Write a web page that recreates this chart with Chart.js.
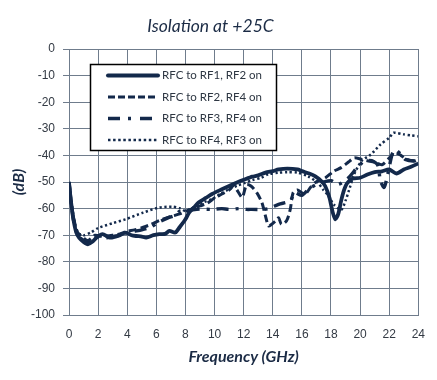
<!DOCTYPE html>
<html>
<head>
<meta charset="utf-8">
<script src="https://cdn.jsdelivr.net/npm/chart.js@4/dist/chart.umd.min.js"></script>
<style>
html,body{margin:0;padding:0;background:#fff;}
canvas{display:block;}
</style>
</head>
<body>
<canvas id="c" width="437" height="380"></canvas>
<script>
// ---- data (frequency in GHz, isolation in dB) ----
const seriesLabels = ['RFC to RF1, RF2 on', 'RFC to RF2, RF4 on', 'RFC to RF3, RF4 on', 'RFC to RF4, RF3 on'];

const freq1 = [0,0.15,0.3,0.5,0.7,1.0,1.3,1.6,1.9,2.3,2.8,3.2,3.5,3.9,4.3,4.6,5.0,5.3,5.8,6.2,6.6,6.9,7.3,7.6,8.0,8.25,8.6,8.9,9.4,9.8,10.4,11.0,11.5,12.1,12.6,13.0,13.5,14.0,14.4,15.0,15.7,16.0,16.5,16.9,17.3,17.6,17.9,18.1,18.3,18.5,18.7,18.9,19.1,19.5,20.0,20.5,21.0,21.5,22.0,22.5,23.0,23.5,24.0];
const rf1rf2 = [-50.3,-58,-64,-69,-71,-72.5,-73.4,-72.5,-70.9,-69.6,-70.9,-70.5,-70,-69,-70,-70.3,-70.5,-70.9,-70,-69.6,-69.5,-68.4,-69,-67,-64,-61.5,-59.5,-57.7,-56,-54.6,-53,-51.5,-50.3,-49,-48,-47.5,-46.5,-45.9,-45.3,-45,-45.3,-45.9,-46.8,-47.8,-49.5,-51.5,-56,-61,-64,-62,-57,-53,-50.5,-48.7,-48.4,-47.2,-46.3,-46,-45.3,-46.8,-45.3,-44.3,-43];

const freq2 = [0,0.3,0.6,1.0,1.3,1.8,2.3,3.0,3.5,4.0,4.5,5.1,5.6,6.2,6.7,7.1,7.6,8.0,8.5,9.0,9.5,10.0,10.5,11.0,11.3,11.6,11.9,12.2,12.5,12.9,13.25,13.5,13.7,13.9,14.2,14.4,14.6,14.95,15.2,15.4,15.7,16.2,16.6,16.9,17.3,17.6,18.2,18.7,19.2,19.6,20.1,20.5,21.0,21.5,22.0,22.4,22.8,23.2,23.7,24.0];
const rf2rf4 = [-50,-63,-69,-71,-72,-70,-70.5,-70,-69.5,-68.5,-68,-67,-66,-64.5,-63.5,-62.8,-62,-61,-60,-59,-58,-56,-54.5,-53,-51.5,-53.5,-55.8,-51,-51.5,-54,-57.7,-62.8,-66.5,-66,-64.6,-63.5,-65.9,-64.6,-60.3,-54,-53,-54.6,-52,-50.3,-49,-48.5,-45.9,-44.6,-42.5,-40.9,-41.5,-42,-42.5,-43.5,-41,-39,-40,-41.5,-42,-41];

const freq3 = [0,0.3,0.6,1.0,1.4,1.9,2.5,3.0,3.5,4.0,4.5,5.0,5.6,6.2,6.8,7.3,7.6,8.0,8.5,9.0,9.8,10.5,11.0,11.7,12.2,12.55,13.25,13.7,14.4,15.2,15.5,16.0,16.5,17.0,17.5,18.0,18.5,19.2,19.8,20.3,20.8,21.2,21.4,21.65,21.9,22.2,22.4,22.8,23.1,23.7,24.0];
const rf3rf4 = [-50,-64,-70,-72,-72.5,-70.5,-71,-70.5,-70,-69,-68.5,-68,-67,-65,-63.5,-62.5,-61,-61,-60.5,-60.2,-60.3,-60,-60.3,-60,-60.3,-60.3,-60.3,-60,-58.4,-57.1,-54,-55,-52.5,-51,-50,-49.5,-50.9,-48.4,-44.6,-42.1,-42,-43.5,-49.6,-52,-47,-39.6,-37.8,-39.6,-41.5,-42.1,-41.5];

const freq4 = [0,0.3,0.6,1.0,1.5,2.0,3.0,3.9,5.1,6.2,7.1,7.6,8.0,8.4,8.7,9.3,9.8,10.4,11.0,11.6,12.1,12.6,13.2,13.7,14.4,15.0,15.7,16.4,17.1,17.45,17.8,18.2,18.7,19.0,19.3,19.6,20.1,20.75,21.4,22.0,22.3,23.0,23.5,24.0];
const rf4rf3 = [-50,-63,-69,-70,-69,-67.3,-65.5,-64,-61.5,-59.6,-59.3,-59.8,-60.9,-60,-59,-57.5,-56.5,-54.5,-52.7,-51.3,-50.3,-49.3,-48.4,-47.1,-46.5,-46.3,-46.5,-47.8,-50.3,-52.8,-55,-58.5,-60.5,-57,-52,-47,-42.1,-39.6,-35.9,-33.4,-31.5,-32.1,-32.5,-32.8];

const xTickStep = 2, yTickStep = 10;
// ---------------------------------------------------

const navy = '#13294b';
const gridCol = '#6f7c8c';
const toPts = (f, v) => f.map((x, i) => ({x: x, y: v[i]}));

const styles = [
  {borderWidth: 3.8, borderDash: []},
  {borderWidth: 3, borderDash: [8, 4]},
  {borderWidth: 3.4, borderDash: [12, 7, 3, 7]},
  {borderWidth: 2.5, borderDash: [2.2, 2.6]}
];
const freqs = [freq1, freq2, freq3, freq4];
const vals = [rf1rf2, rf2rf4, rf3rf4, rf4rf3];

const datasets = seriesLabels.map((lab, i) => ({
  label: lab,
  data: toPts(freqs[i], vals[i]),
  borderColor: navy,
  backgroundColor: navy,
  borderWidth: styles[i].borderWidth,
  borderDash: styles[i].borderDash,
  pointRadius: 0,
  tension: 0.25,
  fill: false
}));

const legendBox = {
  id: 'legendBox',
  beforeDatasetsDraw(chart) {
    const ctx = chart.ctx;
    const bx = 90.5, by = 64.5, bw = 186, bh = 86;
    ctx.save();
    ctx.fillStyle = '#fff';
    ctx.fillRect(bx, by, bw, bh);
    ctx.strokeStyle = '#000';
    ctx.lineWidth = 1.5;
    ctx.strokeRect(bx, by, bw, bh);
    const rows = [75.5, 97, 118.5, 140];
    const legDash = [[], [7, 3], [12, 8, 3, 9], [2.5, 2.6]];
    const legW = [4, 3.2, 3.6, 2.6];
    chart.data.datasets.forEach((ds, i) => {
      const y = rows[i];
      ctx.beginPath();
      ctx.setLineDash(legDash[i]);
      ctx.lineWidth = legW[i];
      ctx.strokeStyle = navy;
      ctx.lineCap = i === 0 ? 'round' : 'butt';
      ctx.moveTo(108, y);
      ctx.lineTo(158, y);
      ctx.stroke();
      ctx.setLineDash([]);
      ctx.fillStyle = '#2d3642';
      ctx.font = '11.5px Lato';
      ctx.textBaseline = 'middle';
      ctx.textAlign = 'left';
      ctx.fillText(ds.label, 162, y);
    });
    ctx.restore();
  }
};

const tickFont = {family: 'Liberation Sans', size: 12};
const tickCol = '#333a44';

new Chart(document.getElementById('c'), {
  type: 'line',
  data: {datasets: datasets},
  plugins: [legendBox],
  options: {
    responsive: false,
    animation: false,
    devicePixelRatio: 1,
    layout: {padding: {left: 0, right: 16, top: 0, bottom: 0}},
    plugins: {
      legend: {display: false},
      tooltip: {enabled: false},
      title: {
        display: true,
        text: 'Isolation at +25C',
        color: '#1b2b45',
        font: {family: 'Lato', size: 17.5, style: 'italic', weight: 'normal'},
        padding: {top: 16, bottom: 12}
      }
    },
    scales: {
      x: {
        type: 'linear', min: 0, max: 24,
        ticks: {stepSize: xTickStep, font: tickFont, color: tickCol, padding: 12, maxRotation: 0},
        grid: {color: gridCol, lineWidth: 1, drawTicks: false},
        border: {color: gridCol, width: 1},
        title: {display: true, text: 'Frequency (GHz)', color: '#1b2b45',
          font: {family: 'Lato', size: 16, style: 'italic', weight: 'bold'}, padding: {top: 0, bottom: 14}},
        afterFit(s) { s.height = 65; }
      },
      y: {
        type: 'linear', min: -100, max: 0,
        ticks: {stepSize: yTickStep, font: tickFont, color: tickCol, padding: 8},
        grid: {color: gridCol, lineWidth: 1, drawTicks: true, tickLength: 6},
        border: {color: gridCol, width: 1},
        title: {display: true, text: '(dB)', color: '#1b2b45',
          font: {family: 'Lato', size: 16, style: 'italic', weight: 'bold'}, padding: {top: 9, bottom: 0}},
        afterFit(s) { s.width = 69; }
      }
    }
  }
});
</script>
</body>
</html>
